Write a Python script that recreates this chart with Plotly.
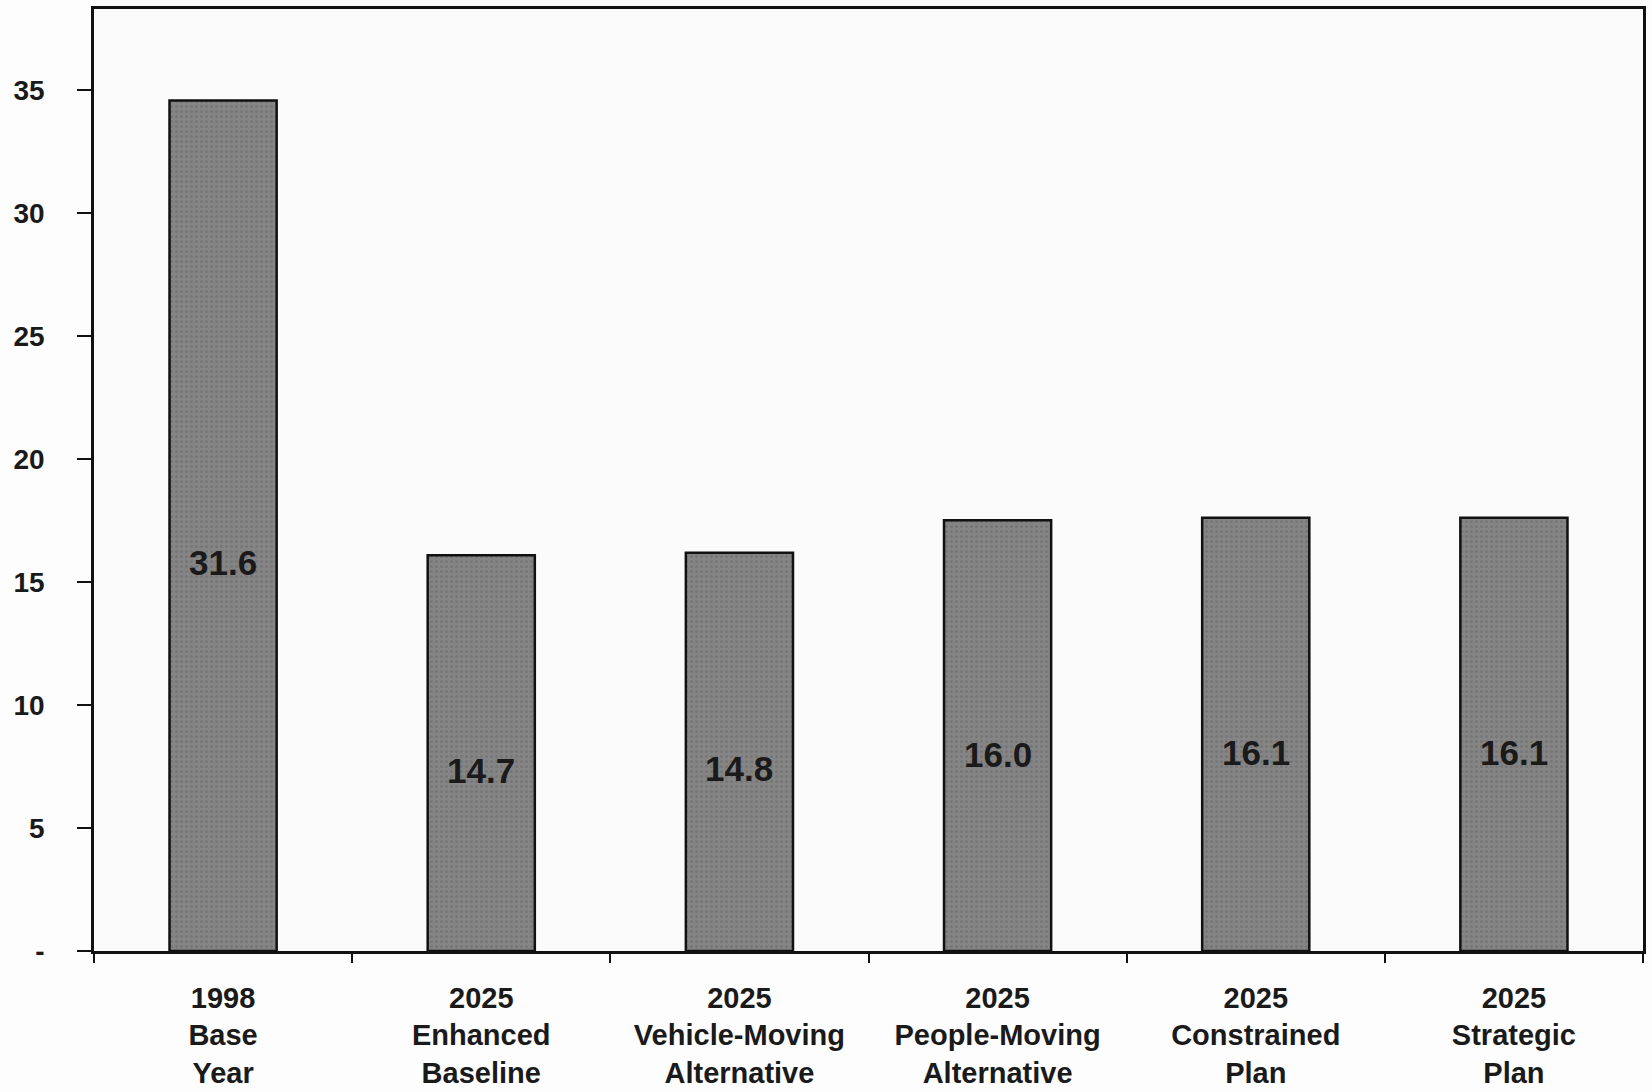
import plotly.graph_objects as go

# Scenario categories (three-line labels) and the values printed on each bar
categories = [
    "1998<br>Base<br>Year",
    "2025<br>Enhanced<br>Baseline",
    "2025<br>Vehicle-Moving<br>Alternative",
    "2025<br>People-Moving<br>Alternative",
    "2025<br>Constrained<br>Plan",
    "2025<br>Strategic<br>Plan",
]
values = [31.6, 14.7, 14.8, 16.0, 16.1, 16.1]
value_labels = ["31.6", "14.7", "14.8", "16.0", "16.1", "16.1"]

# Printed axis scale: its tick numbers run about 9.4% above the bar values
axis_numbers = [0, 5, 10, 15, 20, 25, 30, 35]
axis_text = ["-", "5", "10", "15", "20", "25", "30", "35"]
axis_scale = 1.094

FONT = "Liberation Sans, Arial, sans-serif"
INK = "#1a1a1a"

fig = go.Figure(
    go.Bar(
        x=categories,
        y=values,
        width=0.415,
        marker=dict(
            color="#858585",
            line=dict(color="#111111", width=2.5),
            pattern=dict(shape=".", fgcolor="#686868", size=5, solidity=0.3),
        ),
        hoverinfo="skip",
    )
)

# Value labels sit at half of each value, measured on the printed tick scale
for cat, v, lab in zip(categories, values, value_labels):
    fig.add_annotation(
        x=cat,
        y=(v / 2) / axis_scale,
        text=lab,
        showarrow=False,
        font=dict(family=FONT, size=35, color=INK, weight="bold"),
        yanchor="middle",
    )

fig.update_layout(
    width=1652,
    height=1092,
    margin=dict(l=94, r=9, t=9, b=141, autoexpand=False),
    paper_bgcolor="#fdfdfd",
    plot_bgcolor="#fbfbfb",
    font=dict(family=FONT, size=28, color=INK),
    showlegend=False,
)

fig.update_xaxes(
    type="category",
    range=[-0.5, 5.5],
    automargin=False,
    showline=True,
    linecolor="#111111",
    linewidth=2.5,
    mirror=True,
    ticks="outside",
    tickson="boundaries",
    ticklen=9,
    tickwidth=2,
    tickcolor="#111111",
    ticklabelstandoff=19,
    tickfont=dict(family=FONT, size=29, color=INK, weight="bold"),
    showgrid=False,
    zeroline=False,
)

fig.update_yaxes(
    range=[0, 35],
    automargin=False,
    tickmode="array",
    tickvals=[n / axis_scale for n in axis_numbers],
    ticktext=axis_text,
    showline=True,
    linecolor="#111111",
    linewidth=2.5,
    mirror=True,
    ticks="outside",
    ticklen=14,
    tickwidth=2,
    tickcolor="#111111",
    ticklabelstandoff=27,
    tickfont=dict(family=FONT, size=28, color=INK, weight="bold"),
    showgrid=False,
    zeroline=False,
)

fig.write_html("out.html")
